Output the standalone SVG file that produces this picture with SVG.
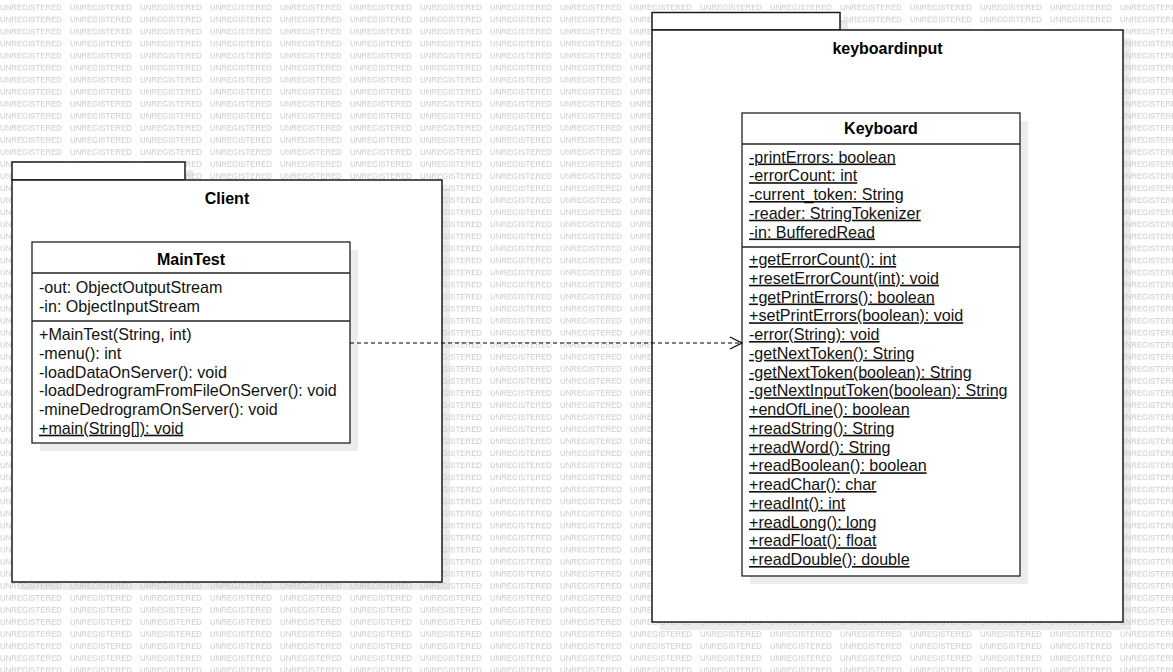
<svg xmlns="http://www.w3.org/2000/svg" width="1173" height="672" viewBox="0 0 1173 672">
  <defs>
    <style>
      .wm { font-family: "Liberation Sans", Arial, sans-serif; font-size: 8px; fill: #c9c9c9; }
      .shadow { fill: #ececec; stroke: none; }
      .pkg { fill: #ffffff; stroke: #1a1a1a; stroke-width: 1.5; }
      .cls { fill: #ffffff; stroke: #222222; stroke-width: 1.3; }
      .sep { stroke: #222222; stroke-width: 1.3; fill: none; }
      .title { font-family: "Liberation Sans", Arial, sans-serif; font-size: 16px; font-weight: bold; fill: #000; text-anchor: middle; }
      .mem { font-family: "Liberation Sans", Arial, sans-serif; font-size: 16.1px; fill: #111; }
      .static { text-decoration: underline; }
      .dep { stroke: #000; stroke-width: 1.2; stroke-dasharray: 4 3; fill: none; }
      .head { stroke: #000; stroke-width: 1.2; fill: none; }
    </style>
    <pattern id="watermark" patternUnits="userSpaceOnUse" x="0" y="0" width="70" height="12.05">
      <text class="wm" x="0" y="10" textLength="62" lengthAdjust="spacingAndGlyphs">UNREGISTERED</text>
    </pattern>
  </defs>

  <rect x="0" y="0" width="1173" height="672" fill="#ffffff"/>

  <!-- package drop shadows -->
  <g id="package-shadows">
    <rect class="shadow" x="20" y="170" width="173" height="18"/>
    <rect class="shadow" x="20" y="188" width="430" height="402"/>
    <rect class="shadow" x="660" y="20.5" width="188" height="18"/>
    <rect class="shadow" x="660" y="38" width="471" height="592"/>
  </g>

  <!-- background watermark -->
  <rect x="0" y="0" width="1173" height="672" fill="url(#watermark)"/>

  <!-- package: Client -->
  <g id="pkg-client">
    <rect class="pkg" x="12" y="162" width="173" height="18"/>
    <rect class="pkg" x="12" y="180" width="430" height="402"/>
    <text class="title" x="227" y="203.5">Client</text>
  </g>

  <!-- package: keyboardinput -->
  <g id="pkg-keyboardinput">
    <rect class="pkg" x="652" y="12.5" width="188" height="17.5"/>
    <rect class="pkg" x="652" y="30" width="471" height="592"/>
    <text class="title" x="887.5" y="54">keyboardinput</text>
  </g>

  <!-- class: MainTest -->
  <g id="cls-maintest">
    <rect class="shadow" x="40" y="250" width="318" height="201"/>
    <rect class="cls" x="32" y="242" width="318" height="201"/>
    <line class="sep" x1="32" y1="273" x2="350" y2="273"/>
    <line class="sep" x1="32" y1="321" x2="350" y2="321"/>
    <text class="title" x="191" y="264.5">MainTest</text>
    <text class="mem" x="39" y="293.3">-out: ObjectOutputStream</text>
    <text class="mem" x="39" y="311.8">-in: ObjectInputStream</text>
    <text class="mem" x="39" y="340">+MainTest(String, int)</text>
    <text class="mem" x="39" y="358.8">-menu(): int</text>
    <text class="mem" x="39" y="377.5">-loadDataOnServer(): void</text>
    <text class="mem" x="39" y="396.2">-loadDedrogramFromFileOnServer(): void</text>
    <text class="mem" x="39" y="415">-mineDedrogramOnServer(): void</text>
    <text class="mem static" x="39" y="433.7">+main(String[]): void</text>
  </g>

  <!-- class: Keyboard -->
  <g id="cls-keyboard">
    <rect class="shadow" x="750" y="121" width="278" height="463"/>
    <rect class="cls" x="742" y="113" width="278" height="463"/>
    <line class="sep" x1="742" y1="144" x2="1020" y2="144"/>
    <line class="sep" x1="742" y1="247" x2="1020" y2="247"/>
    <text class="title" x="881" y="134.3">Keyboard</text>
    <g class="mem static">
      <text x="749" y="162.5">-printErrors: boolean</text>
      <text x="749" y="181.2">-errorCount: int</text>
      <text x="749" y="200">-current_token: String</text>
      <text x="749" y="218.7">-reader: StringTokenizer</text>
      <text x="749" y="237.5">-in: BufferedRead</text>
      <text x="749" y="265">+getErrorCount(): int</text>
      <text x="749" y="283.75">+resetErrorCount(int): void</text>
      <text x="749" y="302.5">+getPrintErrors(): boolean</text>
      <text x="749" y="321.25">+setPrintErrors(boolean): void</text>
      <text x="749" y="340">-error(String): void</text>
      <text x="749" y="358.75">-getNextToken(): String</text>
      <text x="749" y="377.5">-getNextToken(boolean): String</text>
      <text x="749" y="396.25">-getNextInputToken(boolean): String</text>
      <text x="749" y="415">+endOfLine(): boolean</text>
      <text x="749" y="433.75">+readString(): String</text>
      <text x="749" y="452.5">+readWord(): String</text>
      <text x="749" y="471.25">+readBoolean(): boolean</text>
      <text x="749" y="490">+readChar(): char</text>
      <text x="749" y="508.75">+readInt(): int</text>
      <text x="749" y="527.5">+readLong(): long</text>
      <text x="749" y="546.25">+readFloat(): float</text>
      <text x="749" y="565">+readDouble(): double</text>
    </g>
  </g>

  <!-- dependency: MainTest uses Keyboard -->
  <g id="connectors">
    <line class="dep" x1="350" y1="343" x2="741" y2="343"/>
    <polyline class="head" points="730,337 742,343 730,349"/>
  </g>
</svg>
